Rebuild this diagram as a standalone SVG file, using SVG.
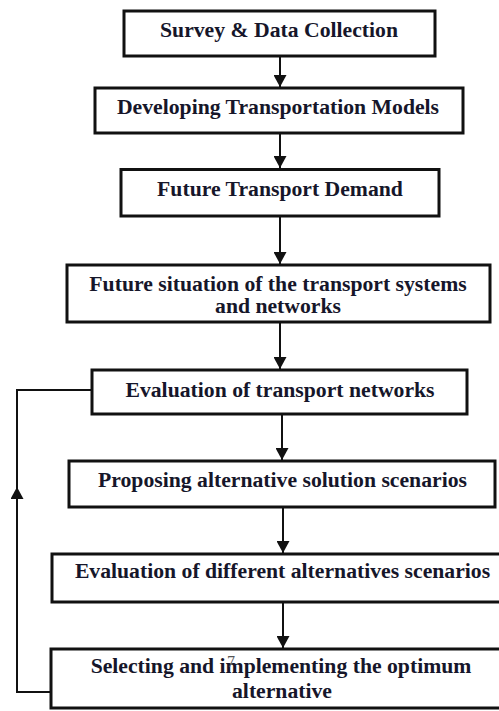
<svg xmlns="http://www.w3.org/2000/svg" width="499" height="711" viewBox="0 0 499 711">
  <style>
    .box { fill: #ffffff; stroke: #111111; stroke-width: 3; }
    .lbl { font-family: "Liberation Serif", "Times New Roman", serif; font-weight: bold; font-size: 21.7px; fill: #16162a; text-anchor: middle; }
    .note { font-family: "Liberation Serif", "Times New Roman", serif; font-size: 16px; fill: #555555; text-anchor: middle; }
    .edge { fill: none; stroke: #111111; stroke-width: 2; }
  </style>
  <defs>
    <marker id="arrow" markerUnits="userSpaceOnUse" markerWidth="14" markerHeight="13" refX="12" refY="6.5" orient="auto">
      <path d="M0,0 L12,6.5 L0,13 Z" fill="#111111"/>
    </marker>
  </defs>
  <rect width="499" height="711" fill="#ffffff"/>

  <g id="connectors">
    <line class="edge" x1="280" y1="56" x2="280" y2="87" marker-end="url(#arrow)"/>
    <line class="edge" x1="280" y1="133" x2="280" y2="168" marker-end="url(#arrow)"/>
    <line class="edge" x1="280" y1="216" x2="280" y2="264" marker-end="url(#arrow)"/>
    <line class="edge" x1="280" y1="322" x2="280" y2="369" marker-end="url(#arrow)"/>
    <line class="edge" x1="282" y1="413" x2="282" y2="460" marker-end="url(#arrow)"/>
    <line class="edge" x1="283" y1="507" x2="283" y2="553" marker-end="url(#arrow)"/>
    <line class="edge" x1="283" y1="602" x2="283" y2="648" marker-end="url(#arrow)"/>
    <!-- feedback loop from the last step back to the network evaluation -->
    <path class="edge" d="M51,692 H17 V487" marker-end="url(#arrow)"/>
    <path class="edge" d="M17,490 V390 H92"/>
  </g>

  <g id="survey">
    <rect class="box" x="124" y="11" width="311" height="45"/>
    <text class="lbl" x="279" y="37">Survey &amp; Data Collection</text>
  </g>
  <g id="models">
    <rect class="box" x="95" y="88" width="368" height="45"/>
    <text class="lbl" x="278" y="114">Developing Transportation Models</text>
  </g>
  <g id="demand">
    <rect class="box" x="121" y="169.5" width="318" height="46.5"/>
    <text class="lbl" x="280" y="196">Future Transport Demand</text>
  </g>
  <g id="future-situation">
    <rect class="box" x="67" y="265" width="423" height="57"/>
    <text class="lbl" x="278" y="291">Future situation of the transport systems</text>
    <text class="lbl" x="278" y="313">and networks</text>
  </g>
  <g id="evaluation">
    <rect class="box" x="92" y="370" width="375" height="44"/>
    <text class="lbl" x="280" y="397">Evaluation of transport networks</text>
  </g>
  <g id="proposing">
    <rect class="box" x="69" y="461" width="426" height="46"/>
    <text class="lbl" x="282.5" y="487">Proposing alternative solution scenarios</text>
  </g>
  <g id="alt-evaluation">
    <rect class="box" x="52" y="554" width="455" height="48"/>
    <text class="lbl" x="282.5" y="578">Evaluation of different alternatives scenarios</text>
  </g>
  <g id="selecting">
    <rect class="box" x="51" y="649" width="456" height="59"/>
    <text class="lbl" x="281" y="673">Selecting and implementing the optimum</text>
    <text class="lbl" x="282" y="698">alternative</text>
    <!-- stray page number printed over the label -->
    <text class="note" x="231" y="667">7</text>
  </g>
</svg>
